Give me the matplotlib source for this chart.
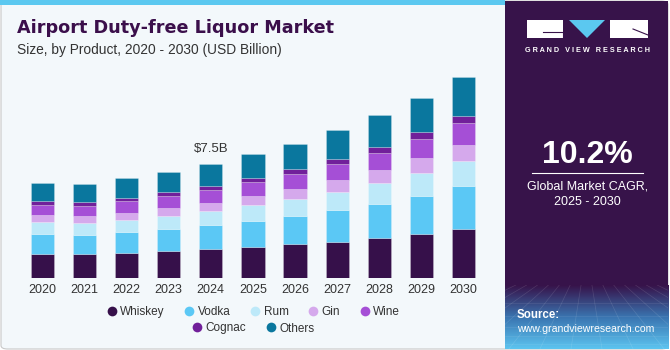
import matplotlib
matplotlib.use("Agg")
import matplotlib.pyplot as plt
import numpy as np
from matplotlib.patches import Rectangle, Polygon, FancyBboxPatch
from matplotlib.lines import Line2D
from matplotlib.colors import LinearSegmentedColormap

plt.rcParams['font.family'] = ['Liberation Sans', 'DejaVu Sans']

years = ['2020', '2021', '2022', '2023', '2024', '2025', '2026', '2027', '2028', '2029', '2030']
whiskey = [1.61, 1.57, 1.68, 1.79, 1.90, 2.03, 2.23, 2.40, 2.64, 2.90, 3.21]
vodka = [1.31, 1.28, 1.35, 1.44, 1.59, 1.72, 1.87, 2.07, 2.24, 2.51, 2.81]
rum = [0.75, 0.77, 0.79, 0.87, 0.92, 1.03, 1.09, 1.20, 1.35, 1.49, 1.66]
gin = [0.48, 0.46, 0.48, 0.50, 0.54, 0.61, 0.65, 0.77, 0.85, 0.96, 1.07]
wine = [0.67, 0.65, 0.75, 0.79, 0.85, 0.90, 0.98, 1.05, 1.16, 1.26, 1.42]
cognac = [0.22, 0.24, 0.24, 0.26, 0.26, 0.30, 0.33, 0.35, 0.37, 0.46, 0.48]
others = [1.18, 1.18, 1.27, 1.33, 1.44, 1.53, 1.68, 1.86, 2.06, 2.24, 2.53]

names = ['Whiskey', 'Vodka', 'Rum', 'Gin', 'Wine', 'Cognac', 'Others']
series = [whiskey, vodka, rum, gin, wine, cognac, others]
colors = ['#36104A', '#5BC8F5', '#BDE9F9', '#D5A9EC', '#A54FD6', '#71209A', '#0A779E']

W, H = 670, 350


def fx(x):
    return x / W


def fy(y):
    return 1 - y / H


fig = plt.figure(figsize=(6.7, 3.5), dpi=100)
fig.patch.set_facecolor('white')

# backgrounds (behind the axes)
fig.add_artist(FancyBboxPatch((fx(1), fy(349)), fx(667), 348 / H,
                              boxstyle="round,pad=0,rounding_size=0.01",
                              transform=fig.transFigure, facecolor='#F3F8FB',
                              edgecolor='#C8C8C8', linewidth=0.8, zorder=-3))
fig.add_artist(Rectangle((fx(0), fy(5)), fx(505), 5 / H, transform=fig.transFigure,
                         facecolor='#5BC8F0', edgecolor='none', zorder=-2))
fig.add_artist(Rectangle((fx(505), fy(349)), fx(163), 348 / H, transform=fig.transFigure,
                         facecolor='#37134A', edgecolor='none', zorder=-2))

# gradient at the bottom of the right panel
gax = fig.add_axes([fx(505), fy(349), fx(163), 64 / H])
grad = np.linspace(0, 1, 100)[:, None]
cm = LinearSegmentedColormap.from_list('g', ['#5CC4F0', '#3A74B0', '#37134A'])
gax.imshow(grad, aspect='auto', cmap=cm, extent=[0, 1, 0, 1], origin='lower')
for k in np.linspace(-1.5, 2.5, 22):
    gax.plot([0.5 + (k - 0.5) * 0.35, k], [1, 0], color='white', alpha=0.12, lw=0.5)
for v in [0.08, 0.2, 0.35, 0.52, 0.72]:
    gax.axhline(v, color='white', alpha=0.1, lw=0.5)
gax.set_xlim(0, 1)
gax.set_ylim(0, 1)
gax.axis('off')

# main chart
ax = fig.add_axes([fx(21.2), fy(278.3), fx(463.4), 218.3 / H])
ax.set_facecolor('none')
x = np.arange(len(years))
bottom = np.zeros(len(years))
for name, vals, c in zip(names, series, colors):
    ax.bar(x, vals, 0.553, bottom=bottom, color=c, label=name,
           edgecolor=(1, 1, 1, 0.3), linewidth=0.5)
    bottom += np.array(vals)

ax.text(4, bottom[4] + 0.55, '$7.5B', ha='center', va='bottom', fontsize=9.5, color='#333333')
ax.set_xlim(-0.5, 10.5)
ax.set_ylim(0, 14.3)
ax.set_xticks(x)
ax.set_xticklabels(years, fontsize=9, color='#333333')
ax.tick_params(axis='x', length=0, pad=4)
ax.set_yticks([])
for s in ax.spines.values():
    s.set_visible(False)

# legend
handles = [Line2D([], [], marker='o', linestyle='none', markersize=7,
                  markerfacecolor=c, markeredgecolor='none') for c in colors]
fig.legend(handles[:5], names[:5], loc='center', bbox_to_anchor=(fx(253), fy(312)),
           ncol=5, frameon=False, fontsize=8.5, handletextpad=0.2, columnspacing=1.6,
           handlelength=1.0)
fig.legend(handles[5:], names[5:], loc='center', bbox_to_anchor=(fx(253), fy(328.5)),
           ncol=2, frameon=False, fontsize=8.5, handletextpad=0.2, columnspacing=1.6,
           handlelength=1.0)
for l in fig.legends:
    for t in l.get_texts():
        t.set_color('#333333')

# titles
fig.text(fx(17), fy(33), 'Airport Duty-free Liquor Market', fontsize=12.7, fontweight='bold',
         color='#3B0F4B', ha='left', va='baseline', family='DejaVu Sans')
fig.text(fx(17), fy(50), 'Size, by Product, 2020 - 2030 (USD Billion)', fontsize=9.9,
         color='#333333', ha='left', va='center')

# logo
fig.add_artist(Rectangle((fx(527), fy(38)), fx(36), 18 / H, transform=fig.transFigure,
                         facecolor='white', edgecolor='none'))
fig.add_artist(Line2D([fx(543), fx(563)], [fy(32), fy(32)], transform=fig.transFigure,
                      color='#37134A', lw=0.8))
fig.add_artist(Line2D([fx(563), fx(563)], [fy(32), fy(38)], transform=fig.transFigure,
                      color='#37134A', lw=0.8))
fig.add_artist(Polygon([(fx(569), fy(20)), (fx(605), fy(20)), (fx(587), fy(38))],
                       transform=fig.transFigure, facecolor='#5BC8F0', edgecolor='none'))
fig.add_artist(Rectangle((fx(610), fy(38)), fx(38), 18 / H, transform=fig.transFigure,
                         facecolor='white', edgecolor='none'))
fig.add_artist(Line2D([fx(633), fx(648)], [fy(29), fy(35)], transform=fig.transFigure,
                      color='#37134A', lw=0.8))
fig.text(fx(587.5), fy(51), 'G R A N D   V I E W   R E S E A R C H', fontsize=5.2,
         fontweight='bold', color='white', ha='center', va='center')

# CAGR box
fig.text(fx(587.5), fy(155), '10.2%', fontsize=23, fontweight='bold', color='white',
         ha='center', va='center')
fig.add_artist(Line2D([fx(532), fx(643)], [fy(173.3), fy(173.3)], transform=fig.transFigure,
                      color='white', lw=0.8))
fig.text(fx(587.5), fy(186), 'Global Market CAGR,', fontsize=9, color='white',
         ha='center', va='center')
fig.text(fx(587.5), fy(202), '2025 - 2030', fontsize=9, color='white',
         ha='center', va='center')
fig.text(fx(517), fy(315), 'Source:', fontsize=8.3, fontweight='bold', color='white',
         ha='left', va='center')
fig.text(fx(517), fy(329), 'www.grandviewresearch.com', fontsize=7.6, color='white',
         ha='left', va='center')

fig.savefig('out.png', dpi=100, facecolor=fig.get_facecolor())
